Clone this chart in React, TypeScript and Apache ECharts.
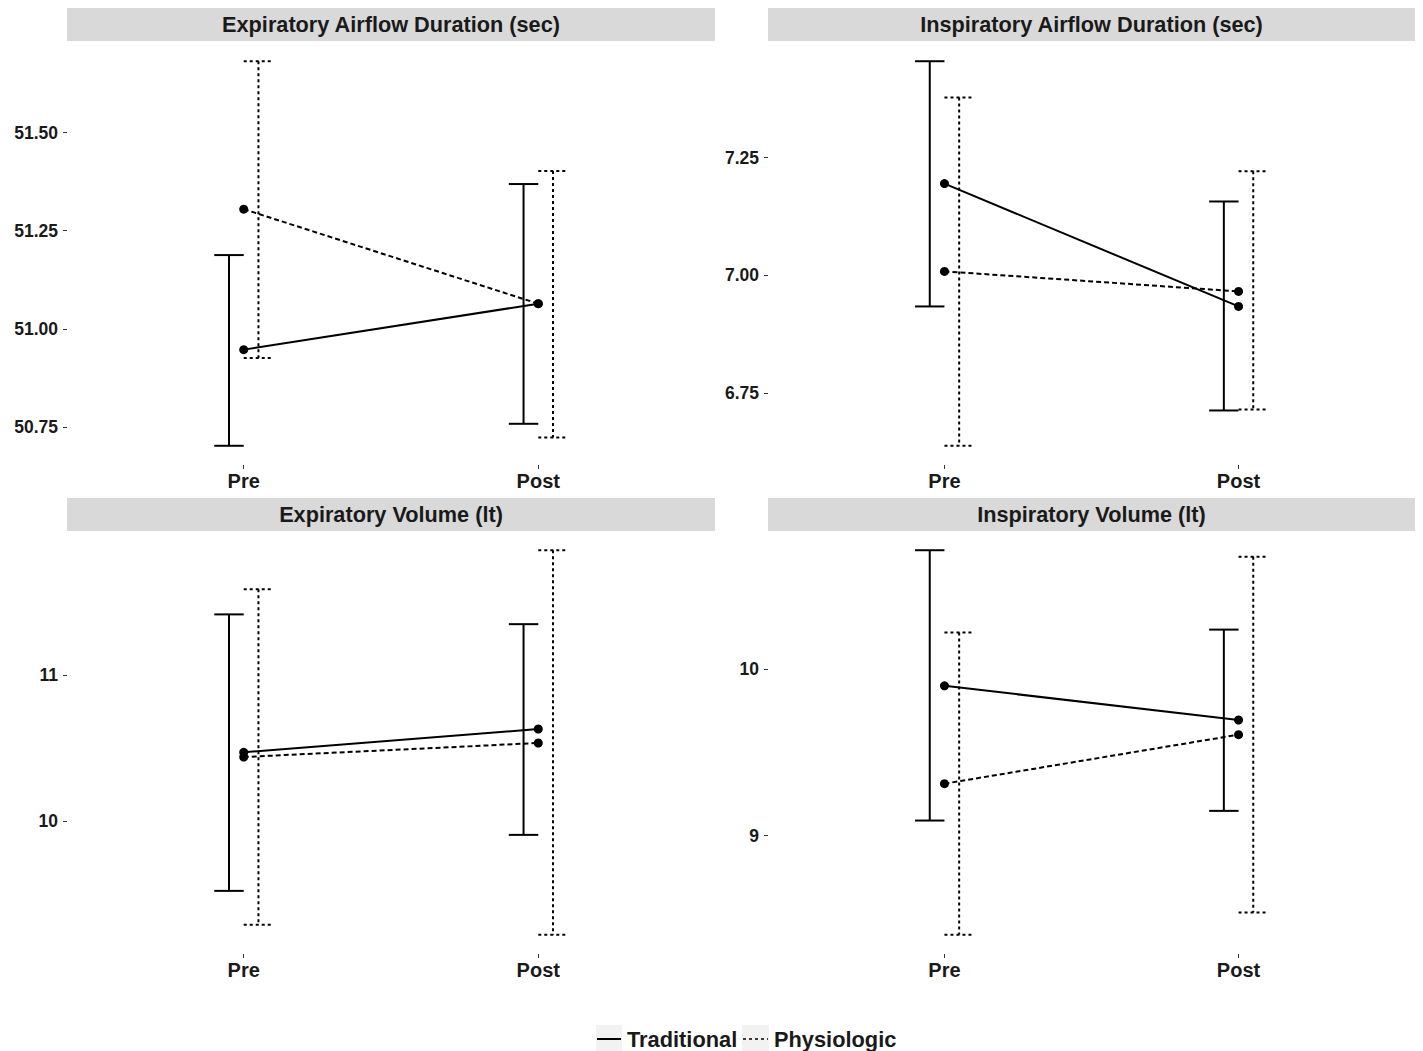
import React, { useEffect, useRef } from 'react';
import * as echarts from 'echarts';

const categories = ['Pre', 'Post'];
const panelTitles = [
  'Expiratory Airflow Duration (sec)',
  'Inspiratory Airflow Duration (sec)',
  'Expiratory Volume (lt)',
  'Inspiratory Volume (lt)',
];
const seriesNames = ['Traditional', 'Physiologic'];

// per panel: [Pre, Post]
const traditionalMean = [[50.947, 51.064], [7.195, 6.934], [10.47, 10.63], [9.898, 9.693]];
const traditionalLower = [[50.702, 50.758], [6.934, 6.713], [9.52, 9.904], [9.09, 9.148]];
const traditionalUpper = [[51.188, 51.369], [7.455, 7.157], [11.416, 11.349], [10.711, 10.235]];
const physiologicMean = [[51.305, 51.064], [7.0085, 6.966], [10.438, 10.534], [9.311, 9.605]];
const physiologicLower = [[50.926, 50.723], [6.638, 6.715], [9.288, 9.219], [8.405, 8.539]];
const physiologicUpper = [[51.682, 51.402], [7.378, 7.221], [11.589, 11.856], [10.217, 10.672]];

const yTicks = [[50.75, 51.0, 51.25, 51.5], [6.75, 7.0, 7.25], [10, 11], [9, 10]];
const yTickDecimals = [2, 2, 0, 0];

const FONT = "'Liberation Sans', Arial, Helvetica, sans-serif";
const TXT = '#1a1a1a';

const grids = [
  { left: 67, top: 42, width: 648, height: 423 },
  { left: 768, top: 42, width: 647, height: 423 },
  { left: 67, top: 531, width: 648, height: 423 },
  { left: 768, top: 531, width: 647, height: 423 },
];
const stripH = 33;

export default function App() {
  const ref = useRef<HTMLDivElement>(null);
  useEffect(() => {
    const chart = echarts.init(ref.current!, null, { renderer: 'svg' });

    const xAxes: any[] = [];
    const yAxes: any[] = [];
    const series: any[] = [];
    const graphics: any[] = [];

    grids.forEach((g, i) => {
      const all = [...traditionalLower[i], ...traditionalUpper[i], ...physiologicLower[i], ...physiologicUpper[i],
        ...traditionalMean[i], ...physiologicMean[i]];
      const lo = Math.min(...all);
      const hi = Math.max(...all);
      const pad = (hi - lo) * 0.05;
      xAxes.push({
        type: 'value', gridIndex: i, min: 0.4, max: 2.6,
        axisLine: { show: false }, splitLine: { show: false },
        axisTick: { show: true, customValues: [1, 2], length: 4, lineStyle: { color: '#333', width: 1 } },
        axisLabel: {
          customValues: [1, 2], margin: 6,
          formatter: (v: number) => categories[Math.round(v) - 1] ?? '',
          fontFamily: FONT, fontWeight: 'bold', fontSize: 20, color: TXT,
        },
      });
      yAxes.push({
        type: 'value', gridIndex: i, min: lo - pad, max: hi + pad,
        axisLine: { show: false }, splitLine: { show: false },
        axisTick: { show: true, customValues: yTicks[i], length: 4, lineStyle: { color: '#333', width: 1 } },
        axisLabel: {
          customValues: yTicks[i], margin: 9,
          formatter: (v: number) => v.toFixed(yTickDecimals[i]),
          fontFamily: FONT, fontWeight: 'bold', fontSize: 17.5, color: TXT,
        },
      });

      const groups = [
        { mean: traditionalMean[i], low: traditionalLower[i], up: traditionalUpper[i], offset: -0.05, dash: null, lineDash: null },
        { mean: physiologicMean[i], low: physiologicLower[i], up: physiologicUpper[i], offset: 0.05, dash: [3, 3], lineDash: [5, 3] },
      ];
      groups.forEach((s, si) => {
        const off = s.offset;
        const dash = s.dash;
        series.push({
          type: 'custom', name: seriesNames[si], xAxisIndex: i, yAxisIndex: i,
          encode: { x: 0, y: [1, 2] },
          data: categories.map((_, k) => [k + 1, s.low[k], s.up[k]]),
          clip: false, z: 2,
          renderItem: (_p: any, api: any) => {
            const x = api.value(0) as number;
            const l = api.value(1) as number;
            const h = api.value(2) as number;
            const unit = api.size([1, 0])[0];
            const pL = api.coord([x, l]);
            const pH = api.coord([x, h]);
            const cx = pL[0] + off * unit;
            const half = 0.05 * unit;
            const style: any = { stroke: '#000', lineWidth: 2, fill: null };
            if (dash) style.lineDash = dash;
            return {
              type: 'group',
              children: [
                { type: 'line', shape: { x1: cx, y1: pH[1], x2: cx, y2: pL[1] }, style },
                { type: 'line', shape: { x1: cx - half, y1: pH[1], x2: cx + half, y2: pH[1] }, style },
                { type: 'line', shape: { x1: cx - half, y1: pL[1], x2: cx + half, y2: pL[1] }, style },
              ],
            };
          },
        });
      });
      groups.forEach((s, si) => {
        series.push({
          type: 'line', name: seriesNames[si], xAxisIndex: i, yAxisIndex: i,
          data: categories.map((_, k) => [k + 1, s.mean[k]]),
          symbol: 'circle', symbolSize: 9, z: 5,
          itemStyle: { color: '#000' },
          lineStyle: { color: '#000', width: 2, type: s.lineDash ? s.lineDash : 'solid' },
          emphasis: { disabled: true },
        });
      });

      graphics.push({
        type: 'rect', shape: { x: g.left, y: (i < 2 ? 8 : 498), width: g.width, height: stripH },
        style: { fill: '#d9d9d9' }, silent: true,
      });
      graphics.push({
        type: 'text', x: g.left + g.width / 2, y: (i < 2 ? 8 : 498) + stripH / 2,
        style: {
          text: panelTitles[i], fill: TXT, font: `bold 21.7px ${FONT}`,
          textAlign: 'center', textVerticalAlign: 'middle',
        },
        silent: true,
      });
    });

    // legend
    const ly = 1039;
    graphics.push({ type: 'rect', shape: { x: 596, y: 1025, width: 26, height: 26 }, style: { fill: '#f2f2f2' } });
    graphics.push({ type: 'line', shape: { x1: 597, y1: ly, x2: 621, y2: ly }, style: { stroke: '#000', lineWidth: 2 } });
    graphics.push({
      type: 'text', x: 627, y: ly,
      style: { text: seriesNames[0], fill: TXT, font: `bold 21.8px ${FONT}`, textAlign: 'left', textVerticalAlign: 'middle' },
    });
    graphics.push({ type: 'rect', shape: { x: 742, y: 1025, width: 27, height: 26 }, style: { fill: '#f2f2f2' } });
    graphics.push({ type: 'line', shape: { x1: 743, y1: ly, x2: 768, y2: ly }, style: { stroke: '#000', lineWidth: 1.5, lineDash: [3, 3] } });
    graphics.push({
      type: 'text', x: 774, y: ly,
      style: { text: seriesNames[1], fill: TXT, font: `bold 21.8px ${FONT}`, textAlign: 'left', textVerticalAlign: 'middle' },
    });

    chart.setOption({
      animation: false,
      backgroundColor: '#ffffff',
      grid: grids.map((g) => ({ ...g, containLabel: false, outerBoundsMode: 'none' })),
      xAxis: xAxes,
      yAxis: yAxes,
      series,
      graphic: graphics,
    });
    return () => chart.dispose();
  }, []);
  return (
    <div
      ref={ref}
      style={{ position: 'fixed', left: 0, top: 0, width: 1423, height: 1051, background: '#fff' }}
    />
  );
}
